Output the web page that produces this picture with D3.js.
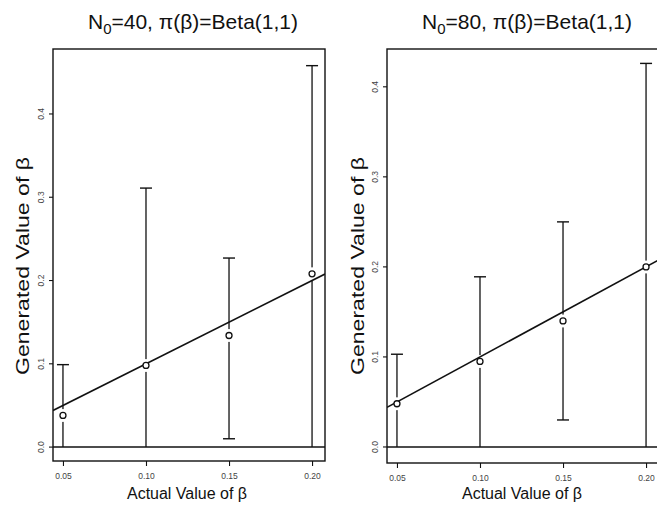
<!DOCTYPE html>
<html><head><meta charset="utf-8">
<script src="https://cdn.jsdelivr.net/npm/d3@7"></script>
<style>body{margin:0;background:#fff}svg{display:block}text{font-family:"Liberation Sans",Arial,sans-serif}</style>
</head><body><svg id="c" width="657" height="506"></svg>
<script>
const actual = [0.05, 0.10, 0.15, 0.20];
const n0Values = [40, 80];
const generated40 = [0.038, 0.098, 0.134, 0.208];
const lower40 = [0.0, 0.0, 0.010, 0.0];
const upper40 = [0.099, 0.311, 0.227, 0.458];
const generated80 = [0.048, 0.095, 0.140, 0.200];
const lower80 = [0.0, 0.0, 0.030, 0.0];
const upper80 = [0.103, 0.189, 0.250, 0.426];
const xTicks = [0.05, 0.10, 0.15, 0.20];
const xTickLabels = ["0.05", "0.10", "0.15", "0.20"];
const yTicks = [0.0, 0.1, 0.2, 0.3, 0.4];
const yTickLabels = ["0.0", "0.1", "0.2", "0.3", "0.4"];

const svg = d3.select("#c");
const panels = [
  {n0: n0Values[0], gen: generated40, lo: lower40, hi: upper40,
   box: {l: 53, r: 325, t: 49, b: 461}, yDom: [-0.0167, 0.478],
   titleX: 193, xTitleX: 187, yTitleX: 29},
  {n0: n0Values[1], gen: generated80, lo: lower80, hi: upper80,
   box: {l: 387, r: 659, t: 49, b: 463}, yDom: [-0.0178, 0.442],
   titleX: 527, xTitleX: 522, yTitleX: 364}
];

panels.forEach((p, pi) => {
  const B = p.box;
  const x = d3.scaleLinear().domain([0.044, 0.2078]).range([B.l, B.r]);
  const y = d3.scaleLinear().domain(p.yDom).range([B.b, B.t]);
  const g = svg.append("g");
  const clipId = "clip" + pi;
  svg.append("clipPath").attr("id", clipId).append("rect")
    .attr("x", B.l).attr("y", B.t).attr("width", B.r - B.l).attr("height", B.b - B.t);

  // box
  g.append("rect").attr("x", B.l).attr("y", B.t).attr("width", B.r - B.l).attr("height", B.b - B.t)
    .attr("fill", "none").attr("stroke", "#111").attr("stroke-width", 1.4);

  // y axis
  const yAxis = d3.axisLeft(y).tickValues(yTicks).tickFormat((d, i) => yTickLabels[i]).tickSize(4);
  const ya = g.append("g").attr("transform", `translate(${B.l},0)`).call(yAxis);
  ya.select(".domain").remove();
  ya.selectAll(".tick").attr("transform", null);
  ya.selectAll(".tick line").attr("transform", d => `translate(0,${y(d)})`)
    .attr("stroke", "#111").attr("stroke-width", 1.1);
  ya.selectAll(".tick text").attr("font-size", 8.5).attr("fill", "#444")
    .attr("text-anchor", "middle").attr("dy", null).attr("x", 0).attr("y", 0)
    .attr("dominant-baseline", "central")
    .attr("transform", d => `translate(-12,${y(d)}) rotate(-90)`);

  // x axis
  const xAxis = d3.axisBottom(x).tickValues(xTicks).tickFormat((d, i) => xTickLabels[i]).tickSize(5).tickPadding(7);
  const xa = g.append("g").attr("transform", `translate(0,${B.b})`).call(xAxis);
  xa.select(".domain").remove();
  xa.selectAll("line").attr("stroke", "#111").attr("stroke-width", 1.1);
  xa.selectAll("text").attr("font-size", 8.5).attr("fill", "#444");

  const plot = g.append("g").attr("clip-path", `url(#${clipId})`);
  // zero line
  plot.append("line").attr("x1", B.l).attr("x2", B.r).attr("y1", y(0)).attr("y2", y(0))
    .attr("stroke", "#111").attr("stroke-width", 1.5);

  const data = actual.map((a, i) => ({a, v: p.gen[i], lo: p.lo[i], hi: p.hi[i]}));
  // error bars
  plot.selectAll(".eb").data(data).join("line")
    .attr("x1", d => x(d.a)).attr("x2", d => x(d.a)).attr("y1", d => y(d.lo)).attr("y2", d => y(d.hi))
    .attr("stroke", "#111").attr("stroke-width", 1.3);
  plot.selectAll(".capH").data(data).join("line")
    .attr("x1", d => x(d.a) - 6).attr("x2", d => x(d.a) + 6).attr("y1", d => y(d.hi)).attr("y2", d => y(d.hi))
    .attr("stroke", "#111").attr("stroke-width", 1.4);
  plot.selectAll(".capL").data(data.filter(d => d.lo > 0)).join("line")
    .attr("x1", d => x(d.a) - 6).attr("x2", d => x(d.a) + 6).attr("y1", d => y(d.lo)).attr("y2", d => y(d.lo))
    .attr("stroke", "#111").attr("stroke-width", 1.4);
  // gaps around points
  plot.selectAll(".gap").data(data).join("circle")
    .attr("cx", d => x(d.a)).attr("cy", d => y(d.v)).attr("r", 6.5).attr("fill", "#fff");
  // y = x reference line
  const lineDom = x.domain();
  plot.append("line").attr("x1", x(lineDom[0])).attr("y1", y(lineDom[0]))
    .attr("x2", x(lineDom[1])).attr("y2", y(lineDom[1]))
    .attr("stroke", "#111").attr("stroke-width", 1.6);
  // points
  plot.selectAll(".pt").data(data).join("circle")
    .attr("cx", d => x(d.a)).attr("cy", d => y(d.v)).attr("r", 3)
    .attr("fill", "#fff").attr("stroke", "#111").attr("stroke-width", 1.3);

  // titles
  const t = g.append("text").attr("x", p.titleX).attr("y", 29).attr("text-anchor", "middle")
    .attr("font-size", 21).attr("fill", "#111");
  t.append("tspan").text("N");
  t.append("tspan").attr("font-size", 15).attr("dy", 5).text("0");
  t.append("tspan").attr("dy", -5).text(`=${p.n0}, π(β)=Beta(1,1)`);

  g.append("text").attr("x", p.xTitleX).attr("y", 499).attr("text-anchor", "middle")
    .attr("font-size", 16).attr("fill", "#111").text("Actual Value of  β");
  g.append("text").attr("transform", `translate(${p.yTitleX},${266}) rotate(-90)`)
    .attr("text-anchor", "middle").attr("font-size", 18).attr("fill", "#111")
    .attr("textLength", 218).attr("lengthAdjust", "spacingAndGlyphs")
    .text("Generated Value of  β");
});
</script></body></html>
